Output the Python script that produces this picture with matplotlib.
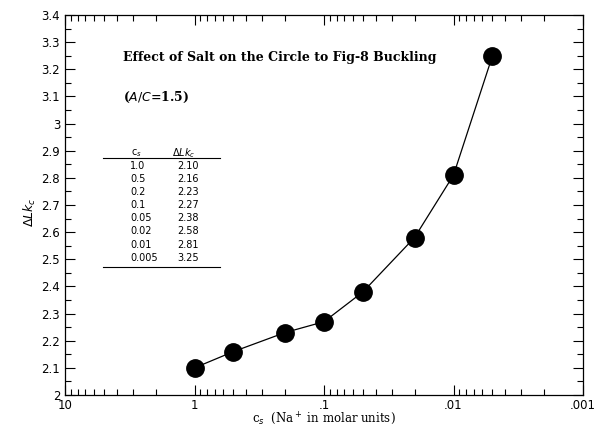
import matplotlib
matplotlib.use("Agg")
import matplotlib.pyplot as plt
from matplotlib.ticker import LogLocator, MultipleLocator, FixedLocator, FixedFormatter, NullFormatter
from matplotlib.lines import Line2D

# Data
salt_conc = [1.0, 0.5, 0.2, 0.1, 0.05, 0.02, 0.01, 0.005]
delta_lk = [2.10, 2.16, 2.23, 2.27, 2.38, 2.58, 2.81, 3.25]
table_cs = ["1.0", "0.5", "0.2", "0.1", "0.05", "0.02", "0.01", "0.005"]
table_lk = ["2.10", "2.16", "2.23", "2.27", "2.38", "2.58", "2.81", "3.25"]
x_ticks = [10, 1, 0.1, 0.01, 0.001]
x_labels = ["10", "1", ".1", ".01", ".001"]
y_ticks = [2, 2.1, 2.2, 2.3, 2.4, 2.5, 2.6, 2.7, 2.8, 2.9, 3, 3.1, 3.2, 3.3, 3.4]
y_labels = ["2", "2.1", "2.2", "2.3", "2.4", "2.5", "2.6", "2.7", "2.8", "2.9", "3", "3.1", "3.2", "3.3", "3.4"]

W, H = 596, 426
fig = plt.figure(figsize=(W / 100, H / 100), dpi=100)
L, R, T, B = 65, 583, 15, 395
ax = fig.add_axes([L / W, 1 - B / H, (R - L) / W, (B - T) / H])

def fx(px):
    return px / W

def fy(py):
    return 1 - py / H

ax.plot(salt_conc, delta_lk, color="black", lw=0.9, marker="o", ms=12.5,
        markerfacecolor="black", markeredgecolor="black")
ax.set_xscale("log")
ax.set_xlim(10, 0.001)
ax.set_ylim(2, 3.4)

ax.xaxis.set_major_locator(FixedLocator(x_ticks))
ax.xaxis.set_major_formatter(FixedFormatter(x_labels))
ax.xaxis.set_minor_locator(LogLocator(base=10, subs=range(2, 10), numticks=20))
ax.xaxis.set_minor_formatter(NullFormatter())
ax.yaxis.set_major_locator(FixedLocator(y_ticks))
ax.yaxis.set_major_formatter(FixedFormatter(y_labels))
ax.yaxis.set_minor_locator(MultipleLocator(0.05))

ax.tick_params(which="both", direction="in", top=True, right=True, labelsize=8.5,
               width=0.8, colors="black")
ax.tick_params(which="major", length=7)
ax.tick_params(which="minor", length=4)
ax.tick_params(axis="x", which="major", pad=3)
for s in ax.spines.values():
    s.set_linewidth(0.9)

fig.text(fx(30), fy(212), r"$\Delta\mathit{Lk}_c$", rotation=90, ha="center", va="center", fontsize=9)
fig.text(fx(324), fy(419), r"c$_s$  (Na$^+$ in molar units)", ha="center", va="center",
         fontsize=8.5, family="DejaVu Serif")

fig.text(fx(123), fy(57), "Effect of Salt on the Circle to Fig-8 Buckling", ha="left", va="center",
         fontsize=9, fontweight="bold", family="DejaVu Serif")
fig.text(fx(123), fy(97), r"($\mathit{A/C}$=1.5)", ha="left", va="center",
         fontsize=9, fontweight="bold", family="DejaVu Serif")

# Table
fig.text(fx(136), fy(153), r"c$_s$", ha="center", va="center", fontsize=7)
fig.text(fx(184), fy(153), r"$\Delta\mathit{Lk}_c$", ha="center", va="center", fontsize=7)
fig.add_artist(Line2D([fx(103), fx(220)], [fy(158), fy(158)], color="black", lw=0.8))
for i, (c, v) in enumerate(zip(table_cs, table_lk)):
    yy = 166 + i * 13.1
    fig.text(fx(130), fy(yy), c, ha="left", va="center", fontsize=7)
    fig.text(fx(177), fy(yy), v, ha="left", va="center", fontsize=7)
fig.add_artist(Line2D([fx(103), fx(220)], [fy(267), fy(267)], color="black", lw=0.8))

fig.savefig("out.png", dpi=100, facecolor="white")
